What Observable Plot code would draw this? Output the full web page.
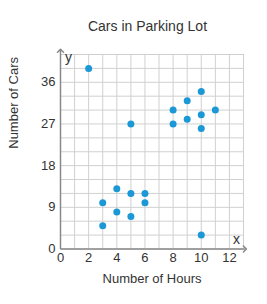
<!DOCTYPE html>
<html>
<head>
<meta charset="utf-8">
<script src="https://cdn.jsdelivr.net/npm/d3@7"></script>
<script src="https://cdn.jsdelivr.net/npm/@observablehq/plot@0.6"></script>
<style>
  body { margin: 0; background: #fff; }
  #title { width: 267px; box-sizing: border-box; padding: 18px 0 0 28px; height: 40px; line-height: 18px;
    text-align: center; font: 14px "Liberation Sans", Arial, sans-serif; color: #333; }
  #chart svg { display: block; }
</style>
</head>
<body>
<div id="title"></div>
<div id="chart"></div>
<script>
const titleText = "Cars in Parking Lot";
const xLabel = "Number of Hours";
const yLabel = "Number of Cars";
const hours = [2, 5, 8, 8, 9, 9, 10, 10, 10, 11, 3, 4, 5, 6, 6, 4, 5, 3, 10];
const cars  = [39, 27, 30, 27, 32, 28, 34, 29, 26, 30, 10, 13, 12, 12, 10, 8, 7, 5, 3];
const xTicks = [0, 2, 4, 6, 8, 10, 12];
const yTicks = [0, 9, 18, 27, 36];
const xGrid = [0, 1, 2, 3, 4, 5, 6, 7, 8, 9, 10, 11, 12, 13];
const yGrid = [0, 3, 6, 9, 12, 15, 18, 21, 24, 27, 30, 33, 36, 39, 42];

const points = hours.map((h, i) => ({hours: h, cars: cars[i]}));

document.getElementById("title").textContent = titleText;

const font = "'Liberation Sans', Arial, sans-serif";
const chart = Plot.plot({
  width: 267,
  height: 264,
  marginTop: 14,
  marginBottom: 55.5,
  marginLeft: 60,
  marginRight: 24,
  x: {domain: [0, 13]},
  y: {domain: [0, 42]},
  style: {fontFamily: font, fontSize: "13px", color: "#333", background: "white", overflow: "visible"},
  marks: [
    Plot.ruleX(xGrid, {x: d => d, stroke: "#d0d0d0", strokeOpacity: 1}),
    Plot.ruleY(yGrid, {y: d => d, stroke: "#d0d0d0", strokeOpacity: 1}),
    Plot.link([{x1: 0, y1: 0, x2: 0, y2: 42.8}], {x1: "x1", y1: "y1", x2: "x2", y2: "y2", stroke: "#888", strokeWidth: 1.5, markerEnd: "arrow"}),
    Plot.link([{x1: 0, y1: 0, x2: 13.1, y2: 0}], {x1: "x1", y1: "y1", x2: "x2", y2: "y2", stroke: "#888", strokeWidth: 1.5, markerEnd: "arrow"}),
    Plot.axisX({ticks: xTicks, tickSize: 0, tickPadding: 4, label: null, fontSize: 13, tickFormat: d => String(d)}),
    Plot.axisY({ticks: yTicks, tickSize: 0, tickPadding: 5, label: null, fontSize: 13, tickFormat: d => String(d)}),
    Plot.text(["y"], {x: 0, y: 42, text: d => d, dx: 8, dy: 3, fontSize: 14, fill: "#333"}),
    Plot.text(["x"], {x: 13, y: 0, text: d => d, dx: -7, dy: -9, fontSize: 14, fill: "#333"}),
    Plot.text([xLabel], {frameAnchor: "bottom", text: d => d, dy: 33.5, fontSize: 13, fill: "#333"}),
    Plot.text([yLabel], {frameAnchor: "left", text: d => d, dx: -46.5, dy: -3, rotate: -90, fontSize: 13, fill: "#333"}),
    Plot.dot(points, {x: "hours", y: "cars", r: 3.5, fill: "#1b98d5", stroke: "none"})
  ]
});
document.getElementById("chart").appendChild(chart);
</script>
</body>
</html>
